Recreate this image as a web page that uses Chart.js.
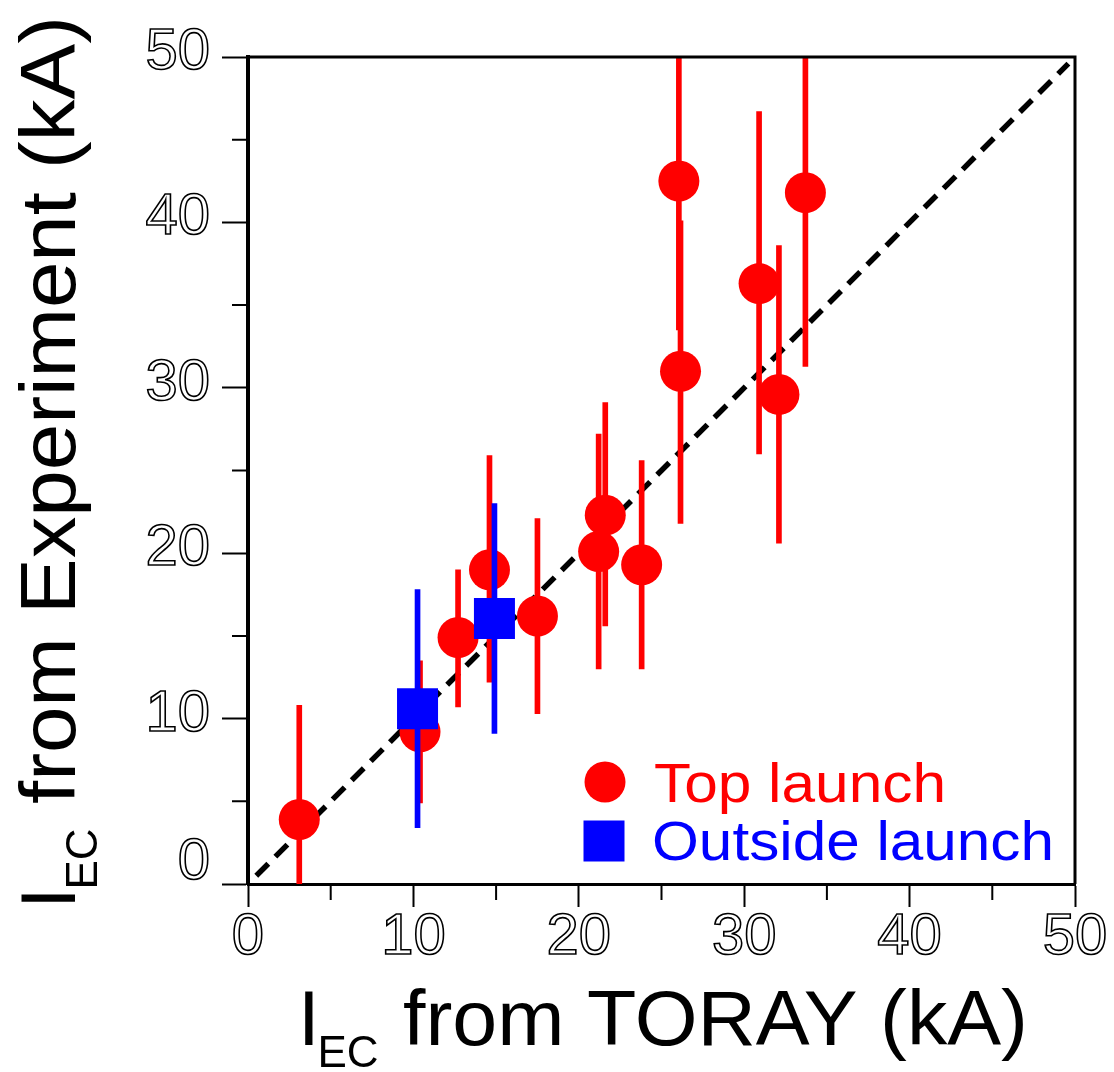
<!DOCTYPE html>
<html>
<head>
<meta charset="utf-8">
<title>I_EC experiment vs TORAY</title>
<script src="https://cdn.jsdelivr.net/npm/chart.js@4.4.1/dist/chart.umd.min.js"></script>
<style>
  html, body { margin: 0; padding: 0; background: #fff; }
  #wrap { width: 1114px; height: 1072px; }
</style>
</head>
<body>
<div id="wrap"><canvas id="chart" width="1114" height="1072"></canvas></div>
<script>
/* global Chart */
'use strict';

// ── 데이터 ──────────────────────────────────────────────────────

var topX  = [3.1, 10.4, 12.7, 14.6, 17.5, 21.2, 21.6, 23.8, 26.05, 26.15, 30.9, 32.1, 33.7];
var topY  = [3.9, 9.2, 14.9, 19.0, 16.2, 20.1, 22.3, 19.3, 42.5, 31.0, 36.3, 29.6, 41.8];
var topLo = [-3.0, 4.9, 10.7, 12.2, 10.3, 13.0, 15.6, 13.0, 33.5, 21.8, 26.0, 20.6, 31.3];
var topHi = [10.8, 13.5, 19.0, 25.9, 22.1, 27.2, 29.1, 25.6, 51.5, 40.1, 46.7, 38.6, 52.4];

var outX  = [10.25, 14.9];
var outY  = [10.6, 16.05];
var outLo = [3.4, 9.1];
var outHi = [17.8, 23.0];

var diagX = [0.5, 49.6];
var majorTicks = [0, 10, 20, 30, 40, 50];
var minorTicks = [5, 15, 25, 35, 45];

var legendLabels = ['Top launch', 'Outside launch'];
var xTitle = 'from TORAY (kA)';
var yTitle = 'from Experiment (kA)';

var FONT = '"Liberation Sans", Arial, sans-serif';

function toPoints(xs, ys) {
  return xs.map(function (x, i) { return { x: x, y: ys[i] }; });
}

function toBars(xs, lo, hi) {
  return xs.map(function (x, i) { return { x: x, y: [lo[i], hi[i]] }; });
}

// ── 장식 (테두리, 보조 눈금, 축 제목, 범례) ────────────────────

function fitText(ctx, text, x, y, width) {
  var w = ctx.measureText(text).width;
  ctx.save();
  ctx.translate(x, y);
  ctx.scale(width / w, 1);
  ctx.fillText(text, 0, 0);
  ctx.restore();
}

function drawAxisTitle(ctx, x, y, angle, rest, restWidth) {
  ctx.save();
  ctx.translate(x, y);
  ctx.rotate(angle);
  ctx.fillStyle = '#000';
  ctx.textBaseline = 'alphabetic';
  ctx.textAlign = 'left';
  ctx.font = '78px ' + FONT;
  ctx.fillText('I', 0, 0);
  ctx.font = '44px ' + FONT;
  ctx.fillText('EC', 19.5, 22);
  ctx.font = '78px ' + FONT;
  fitText(ctx, rest, 105, 0, restWidth);
  ctx.restore();
}

var decorPlugin = {
  id: 'decor',
  afterDraw: function (chart) {
    var ctx = chart.ctx, a = chart.chartArea;
    var xs = chart.scales.x, ys = chart.scales.y;
    ctx.save();

    ctx.strokeStyle = '#000';
    ctx.lineWidth = 3;
    ctx.beginPath();
    ctx.moveTo(a.left, a.top);
    ctx.lineTo(a.right, a.top);
    ctx.lineTo(a.right, a.bottom);
    ctx.stroke();

    ctx.lineWidth = 2;
    ctx.beginPath();
    for (var i = 0; i < minorTicks.length; i++) {
      var px = xs.getPixelForValue(minorTicks[i]);
      ctx.moveTo(px, a.bottom);
      ctx.lineTo(px, a.bottom + 16);
      var py = ys.getPixelForValue(minorTicks[i]);
      ctx.moveTo(a.left, py);
      ctx.lineTo(a.left - 16, py);
    }
    ctx.stroke();

    drawAxisTitle(ctx, 298, 1045, 0, xTitle, 625);
    drawAxisTitle(ctx, 75, 909, -Math.PI / 2, yTitle, 788);

    // 범례
    ctx.fillStyle = '#ff0000';
    ctx.beginPath();
    ctx.arc(605, 782, 20.5, 0, Math.PI * 2);
    ctx.fill();
    ctx.fillStyle = '#0000ff';
    ctx.fillRect(583.5, 820.5, 41, 41);

    ctx.textBaseline = 'alphabetic';
    ctx.textAlign = 'left';
    ctx.font = '56px ' + FONT;
    ctx.fillStyle = '#ff0000';
    fitText(ctx, legendLabels[0], 654, 802, 292);
    ctx.fillStyle = '#0000ff';
    fitText(ctx, legendLabels[1], 652, 860, 402);

    ctx.restore();
  }
};

// ── 차트 ────────────────────────────────────────────────────────

function tickFont(c) {
  if (c.tick && c.tick.value === 0 && c.scale && c.scale.axis === 'y') {
    return { family: FONT, size: 58, lineHeight: '34px' };
  }
  return { family: FONT, size: 58 };
}

var tickOpts = {
  stepSize: 10,
  autoSkip: false,
  maxRotation: 0,
  color: 'rgba(0,0,0,0)',
  textStrokeColor: '#000',
  textStrokeWidth: 1.6,
  font: tickFont
};

var chart = new Chart(document.getElementById('chart').getContext('2d'), {
  type: 'scatter',
  data: {
    datasets: [
      {
        type: 'scatter',
        label: legendLabels[1],
        data: toPoints(outX, outY),
        pointStyle: 'rect',
        pointRadius: 29,
        pointHoverRadius: 29,
        backgroundColor: '#0000ff',
        borderWidth: 0,
        order: 0
      },
      {
        type: 'bar',
        label: legendLabels[1] + ' error',
        data: toBars(outX, outLo, outHi),
        backgroundColor: '#0000ff',
        borderWidth: 0,
        barThickness: 5,
        grouped: false,
        order: 1
      },
      {
        type: 'scatter',
        label: legendLabels[0],
        data: toPoints(topX, topY),
        pointStyle: 'circle',
        pointRadius: 20.5,
        pointHoverRadius: 20.5,
        backgroundColor: '#ff0000',
        borderWidth: 0,
        order: 2
      },
      {
        type: 'bar',
        label: legendLabels[0] + ' error',
        data: toBars(topX, topLo, topHi),
        backgroundColor: '#ff0000',
        borderWidth: 0,
        barThickness: 5,
        grouped: false,
        order: 3
      },
      {
        type: 'line',
        label: 'y = x',
        data: toPoints(diagX, diagX),
        borderColor: '#000',
        borderWidth: 5.5,
        borderDash: [17, 10],
        pointRadius: 0,
        fill: false,
        showLine: true,
        order: 4
      }
    ]
  },
  options: {
    responsive: false,
    animation: false,
    events: [],
    layout: { padding: { top: 57, right: 39, left: 0, bottom: 0 } },
    plugins: { legend: { display: false }, tooltip: { enabled: false } },
    scales: {
      x: {
        type: 'linear',
        min: 0,
        max: 50,
        offset: false,
        afterFit: function (s) { s.height = 188; },
        afterBuildTicks: function (s) { s.ticks = majorTicks.map(function (v) { return { value: v }; }); },
        border: { display: true, color: '#000', width: 3 },
        grid: { drawOnChartArea: false, drawTicks: true, tickLength: 23, tickWidth: 2, tickColor: '#000', offset: false },
        ticks: Object.assign({}, tickOpts, { padding: -4 })
      },
      y: {
        type: 'linear',
        min: 0,
        max: 50,
        afterFit: function (s) { s.width = 248; },
        afterBuildTicks: function (s) { s.ticks = majorTicks.map(function (v) { return { value: v }; }); },
        border: { display: true, color: '#000', width: 4 },
        grid: { drawOnChartArea: false, drawTicks: true, tickLength: 26, tickWidth: 2, tickColor: '#000' },
        ticks: Object.assign({}, tickOpts, {
          padding: 12,
          labelOffset: -4,
          callback: function (v) { return v === 0 ? ['0', ''] : String(v); }
        })
      }
    }
  },
  plugins: [decorPlugin]
});
</script>
</body>
</html>
